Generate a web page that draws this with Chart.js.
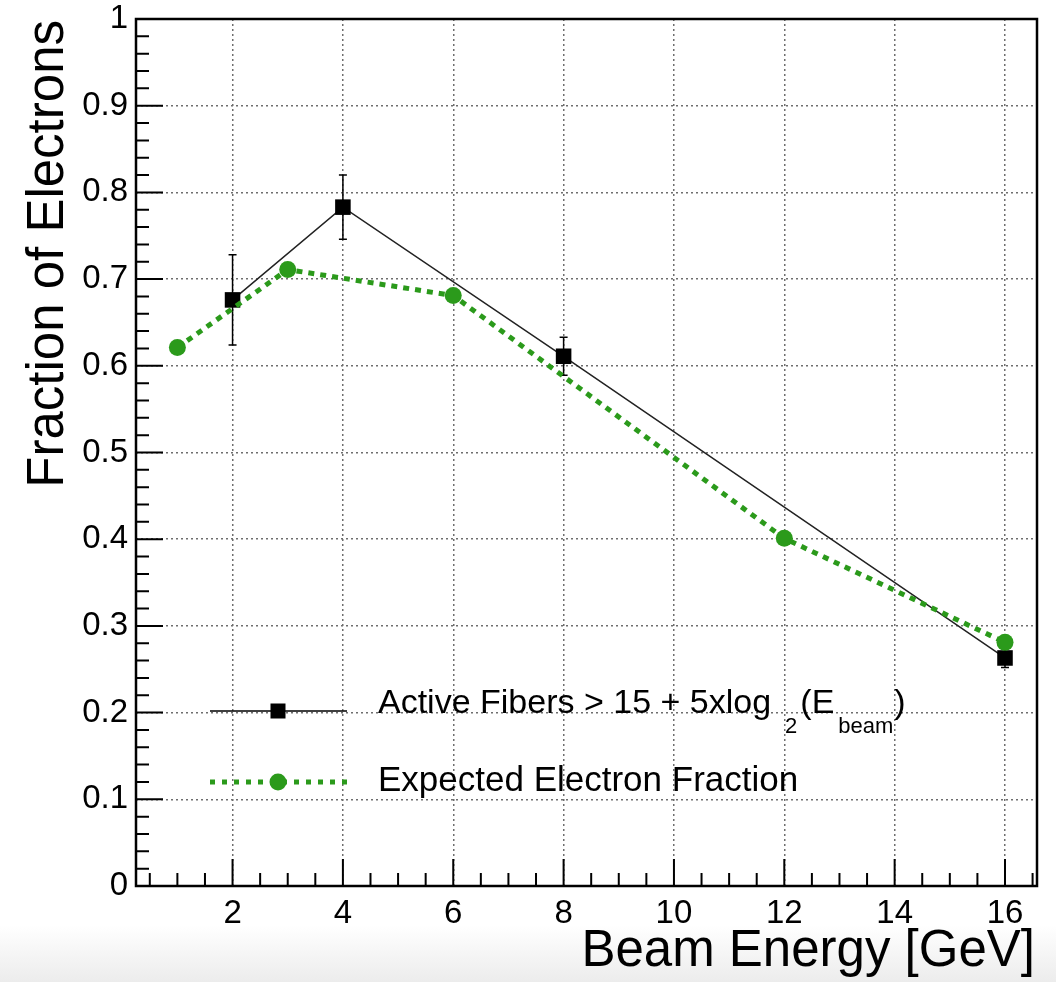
<!DOCTYPE html>
<html>
<head>
<meta charset="utf-8">
<script src="https://cdn.jsdelivr.net/npm/chart.js@4"></script>
<style>
  body { margin: 0; background: #fff; }
  #wrap { width: 1056px; height: 982px; position: relative; }
</style>
</head>
<body>
<div id="wrap"><canvas id="fracChart"></canvas></div>
<script>
// measured points (Active Fibers cut) with vertical errors
var activeEnergy = [2, 4, 8, 16];
var activeFrac = [0.676, 0.783, 0.611, 0.263];
var activeErr = [0.052, 0.037, 0.022, 0.011];

// expected electron fraction
var expectedEnergy = [1, 3, 6, 12, 16];
var expectedFrac = [0.621, 0.711, 0.681, 0.401, 0.281];

// axis ticks
var xTicks = [2, 4, 6, 8, 10, 12, 14, 16];
var yTicks = [0, 0.1, 0.2, 0.3, 0.4, 0.5, 0.6, 0.7, 0.8, 0.9, 1];

var GREEN = '#2b9a1b';
var FONT = '"Liberation Sans", Arial, Helvetica, sans-serif';

function toPoints(xs, ys) {
    return xs.map(function (x, i) { return { x: x, y: ys[i] }; });
}

// ROOT-like decorations: background, frame, inside ticks, titles, legend, error bars
var rootStyle = {
    id: 'rootStyle',
    beforeDraw: function (chart) {
        var c = chart.ctx;
        c.save();
        c.fillStyle = '#fff';
        c.fillRect(0, 0, chart.width, chart.height);
        var g = c.createLinearGradient(0, 925, 0, 982);
        g.addColorStop(0, '#ffffff');
        g.addColorStop(1, '#ececec');
        c.fillStyle = g;
        c.fillRect(0, 925, chart.width, 57);
        c.restore();
    },
    beforeDatasetsDraw: function (chart) {
        var c = chart.ctx, xs = chart.scales.x, ys = chart.scales.y;
        c.save();
        c.strokeStyle = '#000';
        c.lineWidth = 1.5;
        activeEnergy.forEach(function (e, i) {
            var px = xs.getPixelForValue(e);
            var top = ys.getPixelForValue(activeFrac[i] + activeErr[i]);
            var bot = ys.getPixelForValue(activeFrac[i] - activeErr[i]);
            c.beginPath();
            c.moveTo(px, top); c.lineTo(px, bot);
            c.moveTo(px - 4, top); c.lineTo(px + 4, top);
            c.moveTo(px - 4, bot); c.lineTo(px + 4, bot);
            c.stroke();
        });
        c.restore();
    },
    afterDraw: function (chart) {
        var c = chart.ctx, a = chart.chartArea, xs = chart.scales.x, ys = chart.scales.y;
        c.save();
        // frame
        c.strokeStyle = '#000';
        c.lineWidth = 2.5;
        c.strokeRect(a.left, a.top, a.right - a.left, a.bottom - a.top);

        // inside ticks
        c.lineWidth = 2;
        c.beginPath();
        for (var v = 0.5; v <= xs.max; v += 0.5) {
            var px = xs.getPixelForValue(v);
            var len = (v % 2 === 0) ? 27 : 13;
            c.moveTo(px, a.bottom); c.lineTo(px, a.bottom - len);
        }
        for (var k = 0; k <= 50; k++) {
            var py = ys.getPixelForValue(k * 0.02);
            var l2 = (k % 5 === 0) ? 27 : 13;
            c.moveTo(a.left, py); c.lineTo(a.left + l2, py);
        }
        c.stroke();

        // axis titles
        c.fillStyle = '#000';
        c.font = '51px ' + FONT;
        c.textAlign = 'right';
        c.textBaseline = 'alphabetic';
        c.fillText('Beam Energy [GeV]', 1035, 966);
        c.save();
        c.translate(63, 20);
        c.rotate(-Math.PI / 2);
        c.textAlign = 'right';
        c.fillText('Fraction of Electrons', 0, 0);
        c.restore();

        // legend
        var lx0 = 210, lx1 = 347, mx = 278;
        c.strokeStyle = '#000';
        c.lineWidth = 1.5;
        c.beginPath(); c.moveTo(lx0, 711); c.lineTo(lx1, 711); c.stroke();
        c.fillStyle = '#000';
        c.fillRect(mx - 7.5, 711 - 7.5, 15, 15);

        c.strokeStyle = GREEN;
        c.lineWidth = 5;
        c.setLineDash([5, 7]);
        c.beginPath(); c.moveTo(lx0, 782); c.lineTo(lx1, 782); c.stroke();
        c.setLineDash([]);
        c.fillStyle = GREEN;
        c.beginPath(); c.arc(mx, 782, 8.5, 0, Math.PI * 2); c.fill();

        c.fillStyle = '#000';
        c.textAlign = 'left';
        c.font = '34px ' + FONT;
        var tx = 378, base = 713;
        var s1 = 'Active Fibers > 15 + 5xlog';
        c.fillText(s1, tx, base);
        tx += c.measureText(s1).width + 14;
        c.font = '22px ' + FONT;
        c.fillText('2', tx, 733);
        tx += c.measureText('2').width + 3;
        c.font = '34px ' + FONT;
        c.fillText('(E', tx, base);
        tx += c.measureText('(E').width + 4;
        c.font = '22px ' + FONT;
        c.fillText('beam', tx, 733);
        tx += c.measureText('beam').width + 1;
        c.font = '34px ' + FONT;
        c.fillText(')', tx, base);

        c.font = '35px ' + FONT;
        c.fillText('Expected Electron Fraction', 378, 791);
        c.restore();
    }
};

var ctx = document.getElementById('fracChart').getContext('2d');

var fracChart = new Chart(ctx, {
    type: 'scatter',
    data: {
        datasets: [{
            label: 'Expected Electron Fraction',
            data: toPoints(expectedEnergy, expectedFrac),
            showLine: true,
            borderColor: GREEN,
            borderWidth: 5,
            borderDash: [6, 6],
            backgroundColor: GREEN,
            pointStyle: 'circle',
            pointRadius: 8.5,
            pointBorderWidth: 0,
            order: 0
        }, {
            label: 'Active Fibers > 15 + 5xlog2(Ebeam)',
            data: toPoints(activeEnergy, activeFrac),
            showLine: true,
            borderColor: '#222',
            borderWidth: 1.5,
            backgroundColor: '#000',
            pointStyle: 'rect',
            pointRadius: 11,
            pointBorderWidth: 0,
            order: 1
        }]
    },
    options: {
        responsive: true,
        maintainAspectRatio: false,
        animation: false,
        layout: { padding: { top: 19, right: 19, left: 0, bottom: 0 } },
        scales: {
            x: {
                type: 'linear',
                min: 0.25,
                max: 16.58,
                afterBuildTicks: function (axis) {
                    axis.ticks = xTicks.map(function (v) { return { value: v }; });
                },
                afterFit: function (axis) {
                    axis.height = 96;
                    axis.paddingLeft = 0; axis.paddingRight = 0;
                },
                grid: { color: '#6e6e6e', lineWidth: 1.5, drawTicks: false },
                border: { display: false, dash: [2, 3] },
                ticks: {
                    color: '#000',
                    padding: 8,
                    maxRotation: 0,
                    font: { family: FONT, size: 33 }
                }
            },
            y: {
                type: 'linear',
                min: 0,
                max: 1,
                afterBuildTicks: function (axis) {
                    axis.ticks = yTicks.map(function (v) { return { value: v }; });
                },
                afterFit: function (axis) {
                    axis.width = 136;
                    axis.paddingTop = 0; axis.paddingBottom = 0;
                },
                grid: { color: '#6e6e6e', lineWidth: 1.5, drawTicks: false },
                border: { display: false, dash: [2, 3] },
                ticks: {
                    color: '#000',
                    padding: 8,
                    font: { family: FONT, size: 33 },
                    callback: function (v) { return String(+v.toFixed(1)); }
                }
            }
        },
        plugins: {
            legend: { display: false },
            title: { display: false },
            tooltip: { enabled: false }
        }
    },
    plugins: [rootStyle]
});
</script>
</body>
</html>
